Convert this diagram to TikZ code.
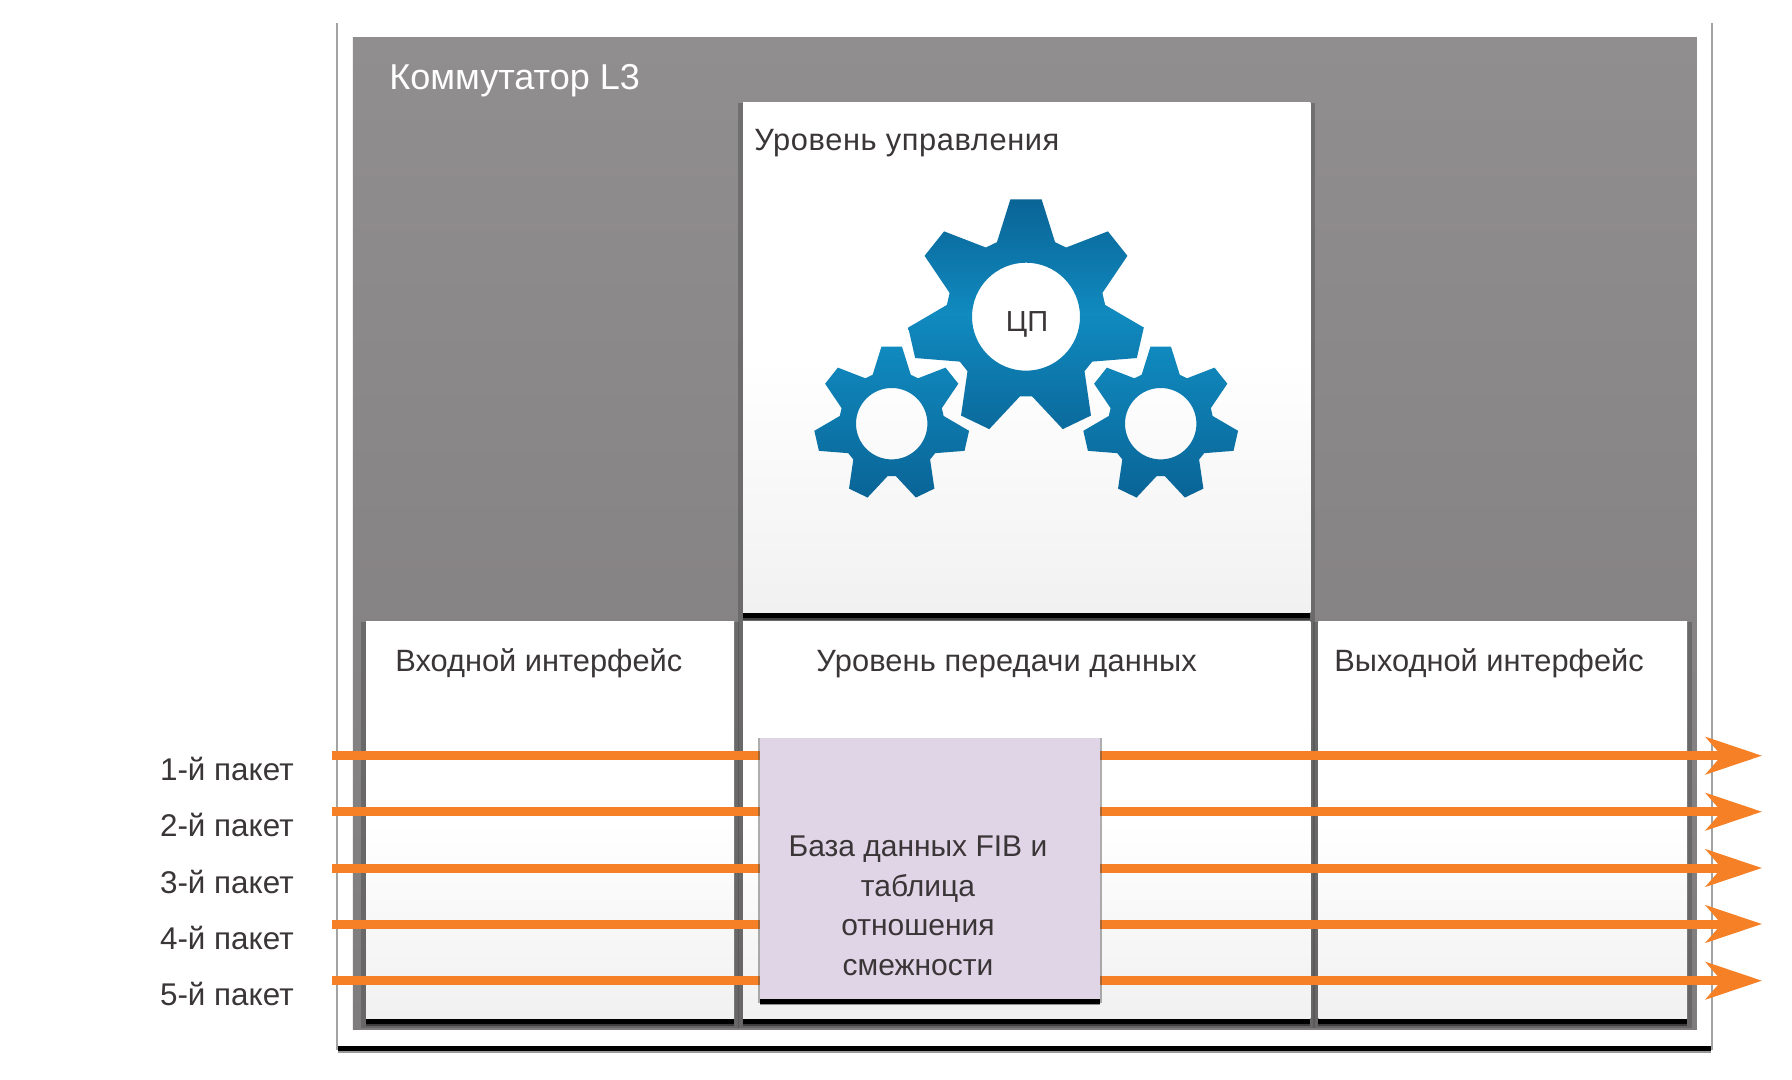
\documentclass[tikz,border=0pt]{standalone}
\usepackage{fontspec}
\setmainfont{Liberation Sans}
\usepackage{xcolor}
\usepackage{tikz}
\usetikzlibrary{arrows.meta,shadows}

\definecolor{casetop}{HTML}{918E8F}
\definecolor{casebottom}{HTML}{7F7C7D}
\definecolor{panelend}{HTML}{F1F1F1}
\definecolor{inkdark}{HTML}{3A3537}
\definecolor{packetline}{HTML}{F58025}
\definecolor{fibfill}{HTML}{E0D5E6}
\definecolor{geardark}{HTML}{0A6496}
\definecolor{gearlight}{HTML}{108ABF}

\tikzset{
  softshadow/.style={general shadow={fill=black!70,draw=black!70,line width=5pt,opacity=.45,shadow yshift=-2.5pt}},
  hardshadow/.style={general shadow={fill=black,opacity=.4,shadow yshift=-3.8pt},general shadow={fill=black,shadow yshift=-2.8pt}},
  panelbox/.style={rectangle,inner sep=0pt,anchor=north west,softshadow,hardshadow,
    top color=white,bottom color=panelend,middle color=white},
  paneltext/.style={anchor=base west,inner sep=0pt,text=inkdark,font=\fontsize{15.4}{18}\selectfont},
  packettext/.style={anchor=base east,inner sep=0pt,text=inkdark,font=\fontsize{15.7}{18}\selectfont},
  packetarrow/.style={draw=packetline,line width=4.5pt,-{Stealth[length=28pt,width=18.5pt,inset=7.8pt]}},
  biggear/.style={top color=geardark,bottom color=geardark!85!gearlight,middle color=gearlight},
  smallgear/.style={top color=gearlight,bottom color=geardark},
}

\newcommand{\cogwheel}[6]{%
  \shade[#1,even odd rule] ([shift={(#2,#3)}] {-90-21.3}:#5)
    \foreach \k in {0,...,6} {
      -- ([shift={(#2,#3)}] {-90+\k*360/7-21.3}:#5)
      -- ([shift={(#2,#3)}] {-90+\k*360/7-7.6}:#4)
      -- ([shift={(#2,#3)}] {-90+\k*360/7+7.6}:#4)
      -- ([shift={(#2,#3)}] {-90+\k*360/7+21.3}:#5)
    } -- cycle
    (#2,#3) circle (#6);
}

\begin{document}
\begin{tikzpicture}[x=0.5pt,y=-0.5pt]
  \useasboundingbox (0,0) rectangle (1792,1080);

  % outer frame and grey case
  \node[rectangle,inner sep=0pt,anchor=north west,fill=white,minimum width=686.4pt,minimum height=511.5pt,
    general shadow={fill=black!60,draw=black!60,line width=2pt,opacity=.6,shadow yshift=-1pt},
    general shadow={fill=black,opacity=.4,shadow yshift=-3.2pt},
    general shadow={fill=black,shadow yshift=-2.3pt}] (frame) at (338,23) {};
  \node[rectangle,inner sep=0pt,anchor=north west,top color=casetop,bottom color=casebottom,
    minimum width=672pt,minimum height=496.2pt] (case) at (352.5,37) {};
  \node[anchor=base west,inner sep=0pt,text=white,font=\fontsize{18}{21}\selectfont] (casetitle) at (389,90) {Коммутатор L3};

  % panels
  \node[panelbox,minimum width=283.6pt,minimum height=254.6pt] (control) at (742.7,102.5) {};
  \node[panelbox,minimum width=184pt,minimum height=198.2pt] (ingress) at (365.8,621.3) {};
  \node[panelbox,minimum width=283.6pt,minimum height=198.2pt] (dataplane) at (742.7,621.3) {};
  \node[panelbox,minimum width=184.3pt,minimum height=198.2pt] (egress) at (1318,621.3) {};

  \node[paneltext] (controltitle) at (754,151) {\addfontfeature{LetterSpace=2}Уровень управления};
  \node[paneltext] (ingresstitle) at (395,671) {Входной интерфейс};
  \node[paneltext] (dataplanetitle) at (816,671) {\addfontfeature{LetterSpace=0.5}Уровень передачи данных};
  \node[paneltext] (egresstitle) at (1334,671) {Выходной интерфейс};

  % gears
  \cogwheel{biggear}{1026}{316.7}{118.3}{80}{54}
  \cogwheel{smallgear}{891.7}{423.7}{77.7}{52.5}{35.7}
  \cogwheel{smallgear}{1160.7}{423.7}{77.7}{52.5}{35.7}
  \node[anchor=base,inner sep=0pt,text=inkdark,font=\fontsize{14.5}{18}\selectfont] (cpu) at (1027,332) {ЦП};

  % packets
  \node[packettext] (packet1) at (294,780) {1-й пакет};
  \node[packettext] (packet2) at (294,836) {2-й пакет};
  \node[packettext] (packet3) at (294,893) {3-й пакет};
  \node[packettext] (packet4) at (294,949) {4-й пакет};
  \node[packettext] (packet5) at (294,1005) {5-й пакет};

  \coordinate (in1) at (332,755.7);
  \coordinate (in2) at (332,811.7);
  \coordinate (in3) at (332,868);
  \coordinate (in4) at (332,924);
  \coordinate (in5) at (332,980.7);
  \coordinate (out1) at (1762,755.7);
  \coordinate (out2) at (1762,811.7);
  \coordinate (out3) at (1762,868);
  \coordinate (out4) at (1762,924);
  \coordinate (out5) at (1762,980.7);

  \draw[packetarrow] (in1) -- (out1);
  \draw[packetarrow] (in2) -- (out2);
  \draw[packetarrow] (in3) -- (out3);
  \draw[packetarrow] (in4) -- (out4);
  \draw[packetarrow] (in5) -- (out5);

  % FIB block sits over the packet lines
  \node[rectangle,inner sep=0pt,anchor=north west,fill=fibfill,minimum width=170pt,minimum height=130.2pt,
    general shadow={fill=black!70,draw=black!70,line width=2pt,opacity=.45,shadow yshift=-1pt},
    general shadow={fill=black,opacity=.4,shadow yshift=-3.4pt},
    general shadow={fill=black,shadow yshift=-2.5pt}] (fib) at (760,737.7) {};
  \node[anchor=base,align=center,inner sep=0pt,text=inkdark,font=\fontsize{15}{19.7}\selectfont] (fibtext) at (918,975)
    {База данных FIB и\\таблица\\отношения\\смежности};
\end{tikzpicture}
\end{document}
